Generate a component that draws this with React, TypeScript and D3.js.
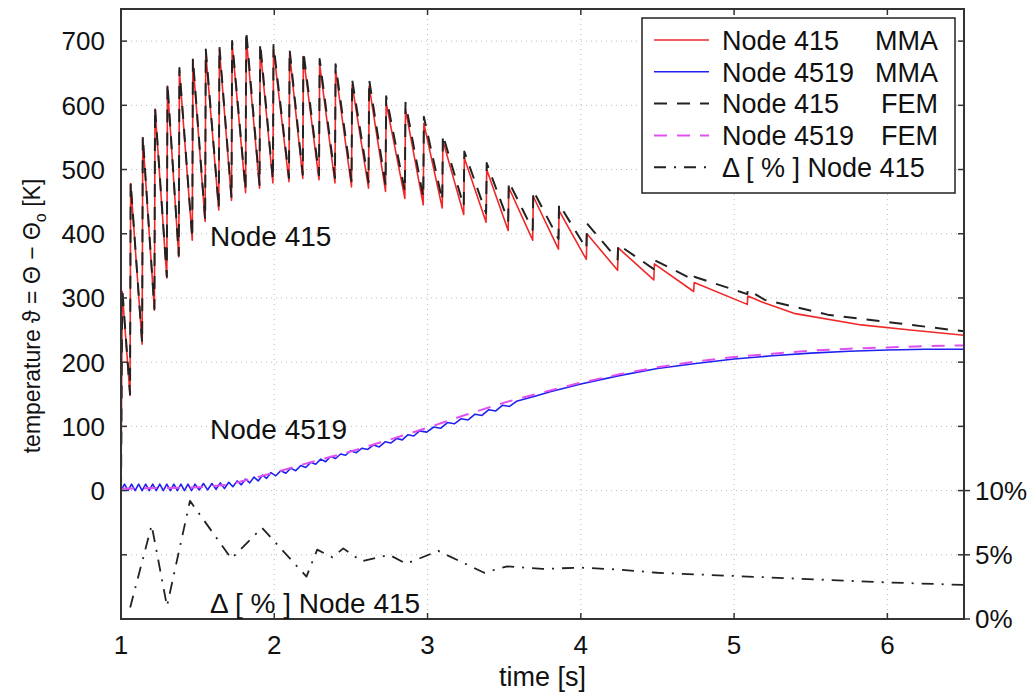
import React from "react";
import * as d3 from "d3";

const W = 1029;
const H = 692;
const plotLeft = 121;
const plotRight = 964;
const plotTop = 9;
const plotBottom = 619;

// Node 415: one sharp rise per heat pulse, then decay until the next one
const pulseTimes = [1.008, 1.063, 1.142, 1.222, 1.303, 1.381, 1.469, 1.553, 1.642, 1.725, 1.817, 1.908, 1.995, 2.10, 2.19, 2.296, 2.40, 2.508, 2.619, 2.73, 2.856, 2.976, 3.10, 3.24, 3.386, 3.53, 3.69, 3.858, 4.04, 4.244, 4.48, 4.74, 5.09];
const mmaTrough415 = [0, 148, 228, 281, 331, 364, 390, 419, 437, 452, 464, 471, 479, 481, 486, 484, 479, 473, 471, 466, 455, 445, 440, 430, 418, 405, 390, 376, 360, 343, 328, 310, 290];
const mmaPeak415 = [310, 478, 549, 594, 630, 654, 668, 682, 687, 695, 706, 690, 687, 680, 676, 664, 655, 632, 630, 604, 594, 572, 545, 518, 500, 472, 458, 436, 400, 378, 353, 324, 303];
const femTrough415 = [0, 150, 230, 283, 333, 366, 393, 422, 440, 456, 468, 476, 484, 487, 492, 491, 487, 482, 480, 476, 466, 457, 452, 443, 432, 420, 406, 392, 377, 360, 345, 328, 306];
const femPeak415 = [315, 480, 552, 597, 634, 658, 673, 687, 692, 700, 716, 697, 694, 687, 684, 672, 664, 640, 640, 614, 604, 582, 554, 528, 510, 481, 467, 446, 416, 383, 359, 333, 313];
const mmaTailT = [5.2, 5.39, 5.83, 6.15, 6.5];
const mmaTailV = [292, 276, 258, 250, 242];
const femTailT = [5.2, 5.61, 6.05, 6.5];
const femTailV = [297, 274, 261, 248];

// Node 4519
const blueT = [1.000, 1.023, 1.046, 1.069, 1.092, 1.115, 1.138, 1.161, 1.184, 1.207, 1.230, 1.253, 1.276, 1.299, 1.322, 1.345, 1.368, 1.391, 1.414, 1.437, 1.460, 1.483, 1.510, 1.538, 1.565, 1.593, 1.620, 1.648, 1.675, 1.703, 1.730, 1.758, 1.785, 1.813, 1.840, 1.868, 1.895, 1.923, 1.950, 1.978, 2.010, 2.043, 2.075, 2.108, 2.140, 2.173, 2.205, 2.238, 2.270, 2.303, 2.335, 2.368, 2.400, 2.433, 2.465, 2.498, 2.535, 2.573, 2.610, 2.648, 2.685, 2.723, 2.760, 2.798, 2.835, 2.873, 2.910, 2.948, 2.995, 3.040, 3.085, 3.130, 3.175, 3.220, 3.265, 3.310, 3.355, 3.400, 3.445, 3.490, 3.535, 3.580, 3.700, 3.800, 4.000, 4.250, 4.500, 4.750, 5.000, 5.250, 5.500, 5.750, 6.000, 6.250, 6.500];
const blueV = [0, 10, 0, 10, 0, 10, 0, 10, 0, 10, 0, 10, 0, 10, 0, 10, 0, 10, 0, 10, 0, 10, 1, 11, 1, 11, 2, 12, 3, 13, 6, 15, 9, 18, 12, 21, 15, 24, 19, 28, 23, 31, 27, 35, 31, 39, 36, 44, 41, 49, 45, 53, 50, 57, 55, 62, 59, 66, 64, 71, 68, 76, 74, 81, 79, 87, 85, 93, 91, 99, 97, 106, 104, 112, 110, 119, 117, 126, 124, 133, 131, 139, 147, 154, 166, 179, 190, 198, 205, 210, 214, 217, 219, 220, 220];
const femT4519 = [1.0, 1.5, 1.7, 2.0, 2.25, 2.5, 2.75, 3.0, 3.25, 3.5, 3.75, 4.0, 4.25, 4.5, 4.75, 5.0, 5.25, 5.5, 5.75, 6.0, 6.25, 6.5];
const femV4519 = [3, 5, 9, 28, 45, 61, 79, 98, 118, 137, 153, 168, 181, 192, 201, 208, 213, 218, 221, 223, 225, 226];

// deviation in percent, Node 415
const deltaT = [1.06, 1.20, 1.30, 1.45, 1.72, 1.92, 2.21, 2.28, 2.38, 2.45, 2.57, 2.75, 2.86, 3.07, 3.37, 3.52, 3.75, 4.0, 4.25, 4.5, 5.0, 5.6, 6.0, 6.5];
const deltaV = [0.9, 7.3, 1.0, 9.2, 4.7, 7.1, 3.3, 5.4, 4.8, 5.5, 4.5, 5.0, 4.3, 5.3, 3.6, 4.1, 3.9, 4.0, 3.85, 3.6, 3.35, 3.05, 2.85, 2.65];

const xTicks = [1, 2, 3, 4, 5, 6];
const yTicks = [-100, 0, 100, 200, 300, 400, 500, 600, 700];
const yLabelTicks = [0, 100, 200, 300, 400, 500, 600, 700];
const pctTicks = [0, 5, 10];

const legendItems = [
  { name: "Node 415", method: "MMA", color: "#f02828", dash: "" },
  { name: "Node 4519", method: "MMA", color: "#2020f0", dash: "" },
  { name: "Node 415", method: "FEM", color: "#222", dash: "13,10" },
  { name: "Node 4519", method: "FEM", color: "#e050f0", dash: "13,10" },
  { name: "\u0394 [ % ] Node 415", method: "", color: "#222", dash: "12,8,2,8" },
];

const font = "'Liberation Sans', Arial, Helvetica, sans-serif";

function sawtooth(trough: number[], peak: number[], tailT: number[], tailV: number[]) {
  const pts: [number, number][] = [[1.0, trough[0]]];
  pulseTimes.forEach((t, i) => {
    if (i > 0) pts.push([t - 0.004, trough[i]]);
    pts.push([t, peak[i]]);
  });
  tailT.forEach((t, i) => pts.push([t, tailV[i]]));
  return pts;
}

export default function App() {
  const x = d3.scaleLinear().domain([1, 6.5]).range([plotLeft, plotRight]);
  const y = d3.scaleLinear().domain([-200, 750]).range([plotBottom, plotTop]);
  const yPct = d3.scaleLinear().domain([0, 10]).range([plotBottom, y(0)]);
  const line = d3.line<[number, number]>().x(d => x(d[0])).y(d => y(d[1]));
  const linePct = d3.line<[number, number]>().x(d => x(d[0])).y(d => yPct(d[1]));

  const mma415 = sawtooth(mmaTrough415, mmaPeak415, mmaTailT, mmaTailV);
  const fem415 = sawtooth(femTrough415, femPeak415, femTailT, femTailV);
  const mma4519 = blueT.map((t, i) => [t, blueV[i]] as [number, number]);
  const fem4519 = femT4519.map((t, i) => [t, femV4519[i]] as [number, number]);
  const delta = deltaT.map((t, i) => [t, deltaV[i]] as [number, number]);

  const tick = 6;
  const legX = 642, legY = 18, legW = 313, legH = 175, rowH = 31.8;

  return (
    <svg width={W} height={H} style={{ position: "absolute", left: 0, top: 0, background: "#fff" }} fontFamily={font}>
      <defs>
        <clipPath id="plotclip">
          <rect x={plotLeft} y={plotTop} width={plotRight - plotLeft} height={plotBottom - plotTop} />
        </clipPath>
      </defs>
      {/* grid */}
      <g stroke="#bcbcbc" strokeWidth={1} strokeDasharray="1,4">
        {xTicks.filter(t => t > 1).map(t => (
          <line key={"gx" + t} x1={x(t)} x2={x(t)} y1={plotTop} y2={plotBottom} />
        ))}
        {yTicks.map(t => (
          <line key={"gy" + t} x1={plotLeft} x2={plotRight} y1={y(t)} y2={y(t)} />
        ))}
      </g>
      {/* curves */}
      <g clipPath="url(#plotclip)" fill="none" strokeLinejoin="round">
        <path d={line(mma415) || ""} stroke="#f02828" strokeWidth={1.6} />
        <path d={line(mma4519) || ""} stroke="#2020f0" strokeWidth={1.6} />
        <path d={line(fem415) || ""} stroke="#222" strokeWidth={2} strokeDasharray="13,10" />
        <path d={line(fem4519) || ""} stroke="#e050f0" strokeWidth={2} strokeDasharray="13,10" />
        <path d={linePct(delta) || ""} stroke="#222" strokeWidth={1.8} strokeDasharray="12,8,2,8" />
      </g>
      {/* frame + ticks */}
      <g stroke="#333" strokeWidth={1.5}>
        <rect x={plotLeft} y={plotTop} width={plotRight - plotLeft} height={plotBottom - plotTop} fill="none" strokeWidth={2} />
        {xTicks.map(t => (
          <g key={"tx" + t}>
            <line x1={x(t)} x2={x(t)} y1={plotBottom} y2={plotBottom - tick} />
            <line x1={x(t)} x2={x(t)} y1={plotTop} y2={plotTop + tick} />
          </g>
        ))}
        {yTicks.map(t => (
          <g key={"ty" + t}>
            <line x1={plotLeft} x2={plotLeft + tick} y1={y(t)} y2={y(t)} />
            <line x1={plotRight} x2={plotRight - tick} y1={y(t)} y2={y(t)} />
          </g>
        ))}
        {pctTicks.map(t => (
          <line key={"tp" + t} x1={plotRight} x2={plotRight + tick} y1={yPct(t)} y2={yPct(t)} />
        ))}
      </g>
      {/* tick labels */}
      <g fontSize={26} fill="#111">
        {yLabelTicks.map(t => (
          <text key={"ly" + t} x={plotLeft - 16} y={y(t)} dy="0.36em" textAnchor="end">{t}</text>
        ))}
        {xTicks.map(t => (
          <text key={"lx" + t} x={x(t)} y={plotBottom + 35} textAnchor="middle">{t}</text>
        ))}
        {pctTicks.map(t => (
          <text key={"lp" + t} x={plotRight + 11} y={yPct(t)} dy="0.36em" textAnchor="start">{t + "%"}</text>
        ))}
      </g>
      {/* axis labels */}
      <text x={(plotLeft + plotRight) / 2} y={686} textAnchor="middle" fontSize={27} fill="#111">time [s]</text>
      <text transform={`translate(40, 316) rotate(-90)`} textAnchor="middle" fontSize={23} fill="#111">
        temperature ϑ = Θ − Θ<tspan fontSize={16} dy="6">o</tspan><tspan dy="-6"> [K]</tspan>
      </text>
      {/* in-plot annotations */}
      <g fontSize={28} fill="#111">
        <text x={210} y={246}>Node 415</text>
        <text x={210} y={439}>Node 4519</text>
        <text x={210} y={613}>{"\u0394 [ % ] Node 415"}</text>
      </g>
      {/* legend */}
      <g>
        <rect x={legX} y={legY} width={legW} height={legH} fill="#fff" stroke="#222" strokeWidth={1.5} />
        {legendItems.map((it, i) => {
          const cy = legY + 22 + i * rowH;
          return (
            <g key={"lg" + i}>
              <line x1={legX + 12} x2={legX + 67} y1={cy} y2={cy} stroke={it.color} strokeWidth={it.dash ? 2 : 1.6} strokeDasharray={it.dash} />
              <text x={legX + 80} y={cy} dy="0.36em" fontSize={27} fill="#111">{it.name}</text>
              {it.method && (
                <text x={legX + 296} y={cy} dy="0.36em" fontSize={27} fill="#111" textAnchor="end">{it.method}</text>
              )}
            </g>
          );
        })}
      </g>
    </svg>
  );
}
